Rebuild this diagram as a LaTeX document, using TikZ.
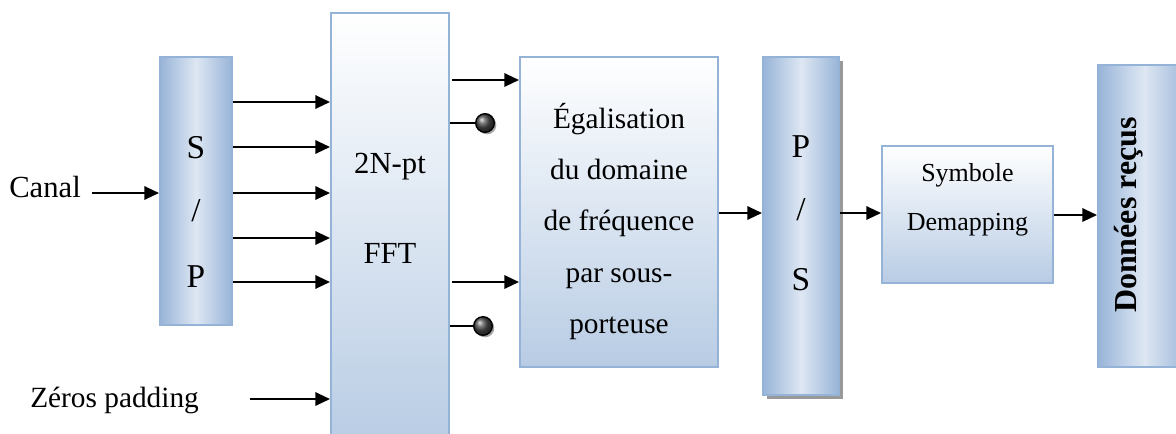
\documentclass[tikz,border=0pt]{standalone}
\usepackage{fontspec}
\setmainfont{Liberation Serif}
\usetikzlibrary{arrows.meta,shadows}
\definecolor{bdr}{RGB}{149,179,215}
\definecolor{dk}{RGB}{152,180,216}
\definecolor{lt}{RGB}{222,231,243}
\definecolor{vb}{RGB}{184,204,228}
\begin{document}
\begin{tikzpicture}[x=0.75pt,y=-0.75pt,
  hbox/.style={draw=bdr,line width=1.5pt,left color=dk,right color=dk,middle color=lt,inner sep=0pt},
  vbox/.style={draw=bdr,line width=1.5pt,top color=white,bottom color=vb,inner sep=0pt},
  arr/.style={line width=1.6pt,-{Triangle[length=11pt,width=10pt]}},
  wire/.style={line width=1.6pt},
  ball/.style={circle,draw=black,line width=1pt,inner sep=0pt,minimum size=14pt,
    ball color=gray!60!black,drop shadow={shadow xshift=1.5pt,shadow yshift=-1.5pt,fill=gray,opacity=0.7}},
  lbl/.style={font=\fontsize{22}{26}\selectfont,anchor=base,inner sep=0pt},
  big/.style={font=\fontsize{25}{30}\selectfont,anchor=base,inner sep=0pt},
  sml/.style={font=\fontsize{19.5}{23}\selectfont,anchor=base,inner sep=0pt}]
\useasboundingbox (0,0) rectangle (1176,433);
\clip (0,0) rectangle (1176,433);
\fill[white] (0,0) rectangle (1176,433);

% boxes
\node[hbox,minimum width=54pt,minimum height=201pt] (sp) at (196,191) {};
\node[vbox,minimum width=88.5pt,minimum height=324pt] (fft) at (390,229) {};
\node[vbox,minimum width=148.5pt,minimum height=232.5pt] (eg) at (619,212) {};
\node[hbox,minimum width=57pt,minimum height=253.5pt,
  drop shadow={shadow xshift=3pt,shadow yshift=-3pt,fill=gray,opacity=0.8}] (ps) at (801,226) {};
\node[vbox,minimum width=128.25pt,minimum height=102.75pt] (sym) at (967.5,214.5) {};
\node[hbox,minimum width=69pt,minimum height=226.5pt] (don) at (1144,216) {};

% texts
\node[big] (s1) at (196,158) {S};
\node[big] (s2) at (196,221) {/};
\node[big] (s3) at (196,287) {P};
\node[lbl,font=\fontsize{23}{27}\selectfont] (f1) at (390,173) {2N-pt};
\node[lbl,font=\fontsize{23}{27}\selectfont] (f2) at (390,263) {FFT};
\node[lbl] (e1) at (619,128) {Égalisation};
\node[lbl] (e2) at (619,179) {du domaine};
\node[lbl] (e3) at (619,230) {de fréquence};
\node[lbl] (e4) at (619,282) {par sous-};
\node[lbl] (e5) at (619,333) {porteuse};
\node[big] (p1) at (801,157) {P};
\node[big] (p2) at (801,220) {/};
\node[big] (p3) at (801,290) {S};
\node[sml] (y1) at (967.5,181) {Symbole};
\node[sml] (y2) at (967.5,230) {Demapping};
\node[rotate=90,inner sep=0pt,font=\fontsize{24}{28}\selectfont\bfseries] (dt) at (1129,215) {Données reçus};
\node[lbl,font=\fontsize{23}{27}\selectfont,anchor=base west] (canal) at (9,197) {Canal};
\node[lbl,anchor=base west] (zp) at (30,407) {Zéros padding};

% level coordinates
\coordinate (l1) at (0,102);
\coordinate (l2) at (0,147);
\coordinate (l3) at (0,193);
\coordinate (l4) at (0,238);
\coordinate (l5) at (0,282);
\coordinate (lz) at (0,399);
\coordinate (r1) at (0,80);
\coordinate (r2) at (0,123);
\coordinate (r3) at (0,282);
\coordinate (r4) at (0,326);
\coordinate (zp0) at (250,399);
\coordinate (cn0) at (92,193);

% connectors
\draw[arr] (cn0) -- (sp.west |- l3);
\foreach \l in {l1,l2,l3,l4,l5}
  \draw[arr] (sp.east |- \l) -- (fft.west |- \l);
\draw[arr] (zp0) -- (fft.west |- lz);
\draw[arr] ([xshift=1.5pt]fft.east |- r1) -- (eg.west |- r1);
\draw[arr] ([xshift=1.5pt]fft.east |- r3) -- (eg.west |- r3);
\node[ball] (b1) at (485,123) {};
\node[ball] (b2) at (483,326) {};
\draw[wire] (fft.east |- r2) -- (b1.west);
\draw[wire] (fft.east |- r4) -- (b2.west);
\draw[arr] (eg.east |- 0,213) -- (ps.west |- 0,213);
\draw[arr] (ps.east |- 0,213) -- (sym.west |- 0,213);
\draw[arr] (sym.east |- 0,215) -- (don.west |- 0,215);
\end{tikzpicture}
\end{document}
